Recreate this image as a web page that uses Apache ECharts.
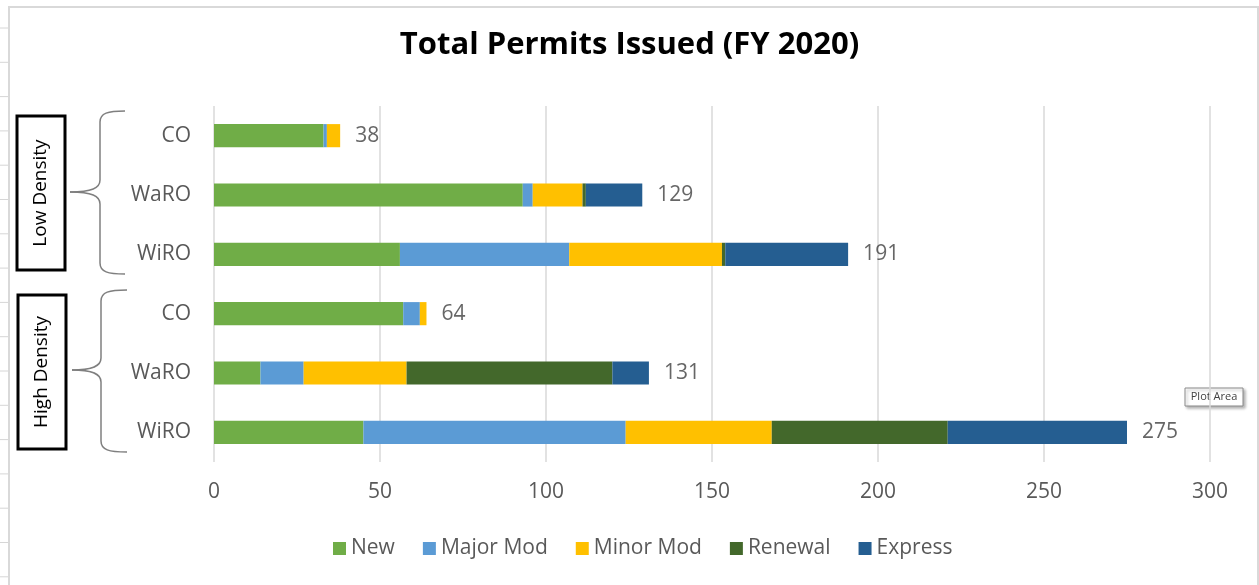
<!DOCTYPE html>
<html>
<head>
<meta charset="utf-8">
<style>
  html, body { margin: 0; padding: 0; background: #fff; }
  #chart { width: 1259px; height: 585px; }
</style>
<script src="https://cdn.jsdelivr.net/npm/echarts@6/dist/echarts.min.js"></script>
</head>
<body>
<div id="chart"></div>
<script>
// categories, top to bottom (low density first, then high density)
var categories = ['CO', 'WaRO', 'WiRO', 'CO', 'WaRO', 'WiRO']
var seriesNames = ['New', 'Major Mod', 'Minor Mod', 'Renewal', 'Express']
var colors = ['#70ad47', '#5b9bd5', '#ffc000', '#43682b', '#255e91']

// values
var newVals = [33, 93, 56, 57, 14, 45]
var majorVals = [1, 3, 51, 5, 13, 79]
var minorVals = [4, 15, 46, 2, 31, 44]
var renewalVals = [0, 1, 1, 0, 62, 53]
var expressVals = [0, 17, 37, 0, 11, 54]
var xTicks = [0, 50, 100, 150, 200, 250, 300]

var allVals = [newVals, majorVals, minorVals, renewalVals, expressVals]
var totals = categories.map(function (c, i) {
  return allVals.reduce(function (s, arr) { return s + arr[i] }, 0)
})

var font = 'Open Sans'
var myChart = echarts.init(document.getElementById('chart'))

var series = seriesNames.map(function (name, k) {
  return {
    name: name,
    type: 'bar',
    stack: 'total',
    barCategoryGap: '61%',
    itemStyle: { color: colors[k] },
    data: allVals[k]
  }
})
// total labels at the end of each stack
series.push({
  name: 'Total',
  type: 'scatter',
  symbolSize: 0,
  silent: true,
  data: totals.map(function (t, i) { return [t, i] }),
  label: {
    show: true,
    position: 'right',
    distance: 15,
    color: '#404040',
    fontSize: 21,
    fontFamily: font,
    formatter: function (p) { return p.value[0] }
  }
})

// small grey marks on the left edge
var edgeMarks = []
for (var i = 0; i < 17; i++) {
  edgeMarks.push({
    type: 'line',
    shape: { x1: 0, y1: 28 + i * 34.3, x2: 8, y2: 28 + i * 34.3 },
    style: { stroke: '#d6d6d6', lineWidth: 1 }
  })
}

// curly brace built from curves and lines
function brace(top, mid, bottom, xv, xt, xe) {
  var st = { fill: 'none', stroke: '#7f7f7f', lineWidth: 1.5 }
  return [
    { type: 'bezierCurve', shape: { x1: xe, y1: top, cpx1: xv + 8, cpy1: top, cpx2: xv, cpy2: top + 2, x2: xv, y2: top + 11 }, style: st },
    { type: 'line', shape: { x1: xv, y1: top + 11, x2: xv, y2: mid - 12 }, style: st },
    { type: 'bezierCurve', shape: { x1: xv, y1: mid - 12, cpx1: xv, cpy1: mid - 4, cpx2: xv - 8, cpy2: mid, x2: xt, y2: mid }, style: st },
    { type: 'bezierCurve', shape: { x1: xt, y1: mid, cpx1: xv - 8, cpy1: mid, cpx2: xv, cpy2: mid + 4, x2: xv, y2: mid + 12 }, style: st },
    { type: 'line', shape: { x1: xv, y1: mid + 12, x2: xv, y2: bottom - 11 }, style: st },
    { type: 'bezierCurve', shape: { x1: xv, y1: bottom - 11, cpx1: xv, cpy1: bottom - 2, cpx2: xv + 8, cpy2: bottom, x2: xe, y2: bottom }, style: st }
  ]
}

var option = {
  animation: false,
  color: colors,
  title: {
    text: 'Total Permits Issued (FY 2020)',
    left: 'center',
    top: 25,
    textStyle: { fontFamily: font, fontSize: 31, fontWeight: 'bold', color: '#000' }
  },
  legend: {
    data: seriesNames,
    left: 328,
    top: 533,
    itemWidth: 13,
    itemHeight: 13,
    itemGap: 28,
    icon: 'rect',
    textStyle: { fontFamily: font, fontSize: 21, color: '#595959' }
  },
  grid: { left: 214, right: 49, top: 106, bottom: 123 },
  xAxis: {
    type: 'value',
    min: xTicks[0],
    max: xTicks[xTicks.length - 1],
    interval: 50,
    axisLine: { show: false },
    axisTick: { show: false },
    axisLabel: { fontFamily: font, fontSize: 21, color: '#595959', margin: 20 },
    splitLine: { lineStyle: { color: '#d9d9d9', width: 1.5 } }
  },
  yAxis: {
    type: 'category',
    inverse: true,
    data: categories,
    axisLine: { show: false },
    axisTick: { show: false },
    axisLabel: { fontFamily: font, fontSize: 21, color: '#595959', margin: 23 }
  },
  graphic: edgeMarks.concat([
    {
      type: 'rect',
      shape: { x: 9, y: 7, width: 1249, height: 620 },
      style: { fill: 'none', stroke: '#d9d9d9', lineWidth: 2 }
    },
    {
      type: 'rect',
      shape: { x: 17, y: 116, width: 48, height: 154 },
      style: { fill: '#fff', stroke: '#000', lineWidth: 3 }
    },
    {
      type: 'text',
      x: 41, y: 193,
      rotation: Math.PI / 2,
      style: { text: 'Low Density', fontFamily: font, fontSize: 19, fill: '#000', align: 'center', verticalAlign: 'middle' }
    },
    {
      type: 'rect',
      shape: { x: 18, y: 295, width: 48, height: 154 },
      style: { fill: '#fff', stroke: '#000', lineWidth: 3 }
    },
    {
      type: 'text',
      x: 42, y: 372,
      rotation: Math.PI / 2,
      style: { text: 'High Density', fontFamily: font, fontSize: 19, fill: '#000', align: 'center', verticalAlign: 'middle' }
    },
    {
      type: 'rect',
      shape: { x: 1185, y: 388, width: 58, height: 18 },
      style: { fill: '#fff', stroke: '#8a8a8a', lineWidth: 1, shadowBlur: 3, shadowOffsetX: 2, shadowOffsetY: 2, shadowColor: 'rgba(0,0,0,0.3)' }
    },
    {
      type: 'text',
      x: 1214, y: 397,
      style: { text: 'Plot Area', fontFamily: font, fontSize: 11, fill: '#404040', align: 'center', verticalAlign: 'middle' }
    }
  ]).concat(brace(111, 192, 274, 100, 70, 125)).concat(brace(290, 370, 452, 101, 72, 127)),
  series: series
}

myChart.setOption(option)
window.onresize = myChart.resize
</script>
</body>
</html>
